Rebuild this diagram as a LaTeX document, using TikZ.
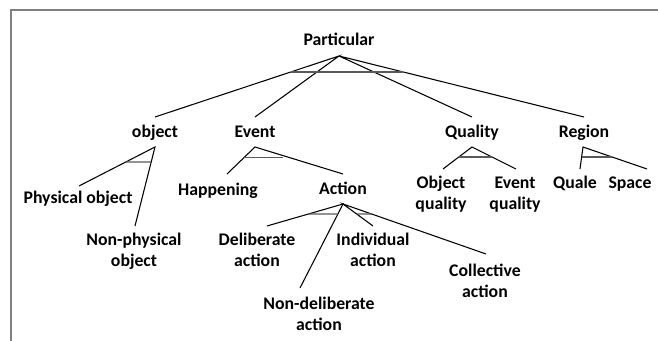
\documentclass[tikz,border=0pt]{standalone}
\usepackage{fontspec}
\setmainfont{Carlito}
\usetikzlibrary{calc}
\begin{document}
\begin{tikzpicture}[x=0.75pt,y=-0.75pt,
  lbl/.style={font=\fontsize{13.3}{16}\selectfont\bfseries, inner sep=0pt, anchor=base, align=center},
  conn/.style={black, line width=0.8pt},
  bar/.style={black!65, line width=1.1pt},
  framebox/.style={black!50, line width=1.5pt}]
\useasboundingbox (0,0) rectangle (658,341);
\draw[framebox] (11,341) |- (658,10);

% nodes (base anchor = baseline of last line)
\node[lbl] (part) at (339,46) {Particular};
\node[lbl] (obj) at (155,138) {object};
\node[lbl] (event) at (255,138) {Event};
\node[lbl] (qual) at (472,138) {Quality};
\node[lbl] (region) at (584,138) {Region};
\node[lbl] (phys) at (78,204) {Physical object};
\node[lbl] (nonphys) at (134,267) {Non-physical\\object};
\node[lbl] (happ) at (218,196) {Happening};
\node[lbl] (action) at (343,195) {Action};
\node[lbl] (objq) at (441,210) {Object\\quality};
\node[lbl] (evq) at (515,210) {Event\\quality};
\node[lbl] (quale) at (575,189) {Quale};
\node[lbl] (space) at (630,189) {Space};
\node[lbl] (delib) at (257,267) {Deliberate\\action};
\node[lbl] (indiv) at (373,267) {Individual\\action};
\node[lbl] (coll) at (485,298) {Collective\\action};
\node[lbl] (nondelib) at (319,331) {Non-deliberate\\action};

% apex points (below parents)
\coordinate (part-a) at ([shift={(0,10)}]part.base);
\coordinate (obj-a) at ([shift={(0,9)}]obj.base);
\coordinate (event-a) at ([shift={(0,9)}]event.base);
\coordinate (qual-a) at ([shift={(0,9)}]qual.base);
\coordinate (region-a) at ([shift={(-1,9)}]region.base);
\coordinate (action-a) at ([shift={(0,9)}]action.base);

% top ends (above children)
\coordinate (obj-t) at ([shift={(0,-21)}]obj.base);
\coordinate (event-t) at ([shift={(0,-21)}]event.base);
\coordinate (qual-t) at ([shift={(0,-21)}]qual.base);
\coordinate (region-t) at ([shift={(0,-21)}]region.base);
\coordinate (phys-t) at ([shift={(1,-18)}]phys.base);
\coordinate (nonphys-t) at ([shift={(1,-41)}]nonphys.base);
\coordinate (happ-t) at ([shift={(9,-22)}]happ.base);
\coordinate (action-t) at ([shift={(0,-21)}]action.base);
\coordinate (delib-t) at ([shift={(10,-41)}]delib.base);
\coordinate (nondelib-t) at ([shift={(-19,-43)}]nondelib.base);
\coordinate (indiv-t) at ([shift={(0,-41)}]indiv.base);
\coordinate (coll-t) at ([shift={(1,-44)}]coll.base);
\coordinate (objq-t) at ([shift={(2,-41)}]objq.base);
\coordinate (evq-t) at ([shift={(1,-41)}]evq.base);
\coordinate (quale-t) at ([shift={(5,-20)}]quale.base);
\coordinate (space-t) at ([shift={(17,-20)}]space.base);

% connectors
\draw[conn] (obj-t) -- (part-a) -- (event-t);
\draw[conn] (qual-t) -- (part-a) -- (region-t);
\draw[conn] (phys-t) -- (obj-a) -- (nonphys-t);
\draw[conn] (happ-t) -- (event-a) -- (action-t);
\draw[conn] (objq-t) -- (qual-a) -- (evq-t);
\draw[conn] (quale-t) -- (region-a) -- (space-t);
\draw[conn] (delib-t) -- (action-a) -- (nondelib-t);
\draw[conn] (indiv-t) -- (action-a) -- (coll-t);

% disjointness bars
\draw[bar] ($(part-a)!.262!(obj-t)$) -- ($(part-a)!.262!(region-t)$);
\draw[bar] ($(obj-a)!.385!(phys-t)$) -- ($(obj-a)!.19!(nonphys-t)$);
\coordinate (evbarL) at ($(event-a)!.39!(happ-t)$);
\coordinate (evbarR) at ($(event-a)!.32!(action-t)$);
\draw[bar] (evbarL) -- (evbarR |- evbarL);
\draw[bar] ($(qual-a)!.455!(objq-t)$) -- ($(qual-a)!.455!(evq-t)$);
\draw[bar] ($(region-a)!.455!(quale-t)$) -- ($(region-a)!.455!(space-t)$);
\draw[bar] ($(action-a)!.455!(delib-t)$) -- ($(action-a)!.119!(nondelib-t)$);
\draw[bar] ($(action-a)!.455!(indiv-t)$) -- ($(action-a)!.2!(coll-t)$);
\end{tikzpicture}
\end{document}
